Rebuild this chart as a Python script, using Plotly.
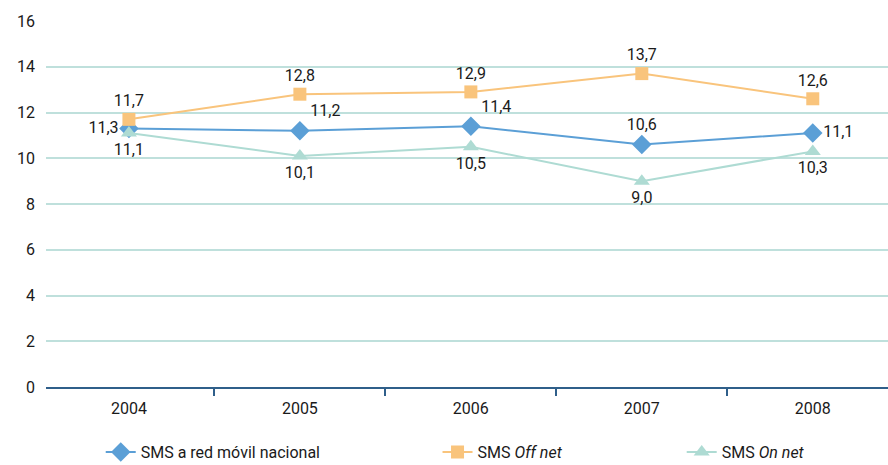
import plotly.graph_objects as go

years = ["2004", "2005", "2006", "2007", "2008"]
sms_red = [11.3, 11.2, 11.4, 10.6, 11.1]
sms_off = [11.7, 12.8, 12.9, 13.7, 12.6]
sms_on = [11.1, 10.1, 10.5, 9.0, 10.3]
y_ticks = [0, 2, 4, 6, 8, 10, 12, 14, 16]

FONT = "Roboto, Liberation Sans Narrow, sans-serif"
FS = 16

def fmt(v):
    return f"{v:.1f}".replace(".", ",")

blue = "#5b9fd6"
orange = "#f9c47c"
teal = "#aedbd3"

fig = go.Figure()
fig.add_trace(go.Scatter(
    x=years, y=sms_red, name="SMS a red móvil nacional", mode="lines+markers+text",
    line=dict(color=blue, width=2), marker=dict(symbol="diamond", size=15, color=blue),
    text=[fmt(v) for v in sms_red],
    textposition=["middle left", "top right", "top right", "top center", "middle right"],
    textfont=dict(family=FONT, size=FS, color="#1a1a1a"), legend="legend2", showlegend=True,
))
fig.add_trace(go.Scatter(
    x=years, y=sms_off, name="SMS <i>Off net</i>", mode="lines+markers+text",
    line=dict(color=orange, width=2), marker=dict(symbol="square", size=13, color=orange),
    text=[fmt(v) for v in sms_off], textposition="top center",
    textfont=dict(family=FONT, size=FS, color="#1a1a1a"), legend="legend3", showlegend=True,
))
fig.add_trace(go.Scatter(
    x=years, y=sms_on, name="SMS <i>On net</i>", mode="lines+markers+text",
    line=dict(color=teal, width=2), marker=dict(symbol="triangle-up", size=14, color=teal),
    text=[fmt(v) for v in sms_on], textposition="bottom center",
    textfont=dict(family=FONT, size=FS, color="#1a1a1a"), legend="legend4", showlegend=True,
))

leg = dict(orientation="h", yanchor="middle", y=-0.178, xanchor="left",
           font=dict(family=FONT, size=FS, color="#1a1a1a"), bgcolor="rgba(0,0,0,0)")
fig.update_layout(
    width=888, height=465,
    margin=dict(l=46, r=0, t=21, b=78, autoexpand=False),
    paper_bgcolor="white", plot_bgcolor="white",
    font=dict(family=FONT, size=FS, color="#1a1a1a"),
    legend2=dict(leg, x=0.065),
    legend3=dict(leg, x=0.465),
    legend4=dict(leg, x=0.755),
    xaxis=dict(type="category", range=[-0.485, 4.44], tickson="boundaries",
               ticks="outside", ticklen=7, tickcolor="#2f5f8a", tickwidth=2,
               showline=True, linecolor="#2f5f8a", linewidth=2, showgrid=False,
               ticklabelstandoff=6, automargin=False),
    yaxis=dict(range=[0, 16], tickvals=y_ticks, showgrid=True, gridcolor="#bfe0dc",
               gridwidth=1.5, zeroline=False, showline=False, ticks="",
               ticklabelstandoff=10, automargin=False),
)
fig.write_html("out.html", config={"displayModeBar": False},
               post_script="document.body.style.margin='0';document.body.style.overflow='hidden';")
